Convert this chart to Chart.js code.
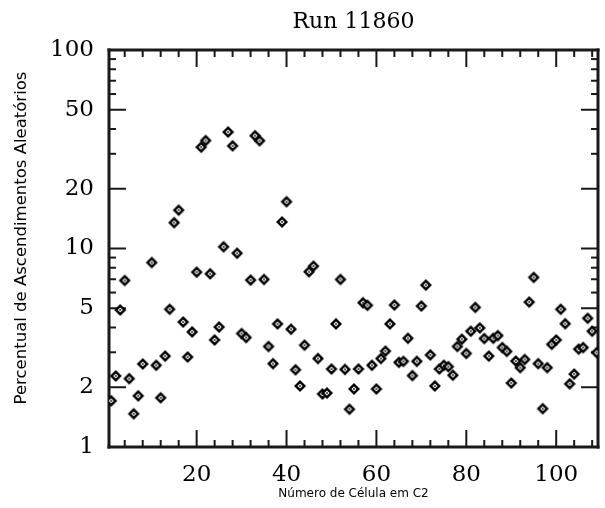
<!DOCTYPE html>
<html><head><meta charset="utf-8">
<script src="https://cdn.jsdelivr.net/npm/chart.js@4.4.0/dist/chart.umd.min.js"></script>
<style>html,body{margin:0;padding:0;background:#fff;}canvas{display:block;}</style>
</head><body>
<canvas id="c" width="605" height="508"></canvas>
<script>
const titleText = 'Run 11860';
const xTitle = 'Número de Célula em C2';
const yTitle = 'Percentual de Ascendimentos Aleatórios';
const cells = Array.from({length: 109}, (_, i) => i + 1);
const values = [
  1.71, 2.28, 4.90, 6.9, 2.21, 1.47, 1.81, 2.62, null, 8.5,
  2.58, 1.77, 2.87, 4.94, 13.5, 15.6, 4.26, 2.84, 3.80, 7.6,
  32.4, 35.0, 7.46, 3.46, 4.02, 10.2, 38.6, 32.9, 9.47, 3.73,
  3.56, 6.93, 37.0, 34.9, 6.98, 3.21, 2.63, 4.17, 13.6, 17.2,
  3.92, 2.45, 2.03, 3.26, 7.64, 8.15, 2.79, 1.85, 1.87, 2.47,
  4.17, 6.98, 2.46, 1.55, 1.96, 2.47, 5.33, 5.17, 2.58, 1.96,
  2.79, 3.04, 4.17, 5.19, 2.67, 2.70, 3.53, 2.29, 2.70, 5.13,
  6.54, 2.91, 2.03, 2.47, 2.58, 2.54, 2.30, 3.21, 3.49, 2.96,
  3.83, 5.05, 3.98, 3.52, 2.87, 3.53, 3.64, 3.17, 3.03, 2.10,
  2.71, 2.51, 2.76, 5.37, 7.15, 2.63, 1.56, 2.51, 3.29, 3.46,
  4.94, 4.18, 2.08, 2.33, 3.11, 3.17, 4.45, 3.83, 2.99
];
const xTicks = [20, 40, 60, 80, 100];
const xMinorTicks = [4, 8, 12, 16, 24, 28, 32, 36, 44, 48, 52, 56, 64, 68, 72, 76, 84, 88, 92, 96, 104, 108];
const yTicks = [1, 2, 5, 10, 20, 50, 100];
const yMinorTicks = [3, 4, 6, 7, 8, 9, 30, 40, 60, 70, 80, 90];

function makeMarker() {
  const s = 14, m = 7;
  const c = document.createElement('canvas');
  c.width = s; c.height = s;
  const g = c.getContext('2d');
  g.fillStyle = '#000';
  g.beginPath(); g.moveTo(m, m - 6); g.lineTo(m + 6, m); g.lineTo(m, m + 6); g.lineTo(m - 6, m); g.closePath(); g.fill();
  g.fillStyle = '#fff';
  g.beginPath(); g.moveTo(m, m - 2.6); g.lineTo(m + 2.6, m); g.lineTo(m, m + 2.6); g.lineTo(m - 2.6, m); g.closePath(); g.fill();
  g.fillStyle = '#000';
  g.fillRect(m - 0.8, m - 0.8, 1.6, 1.6);
  return c;
}

const frameTicks = {
  id: 'frameTicks',
  beforeDatasetsDraw(chart) {
    const ctx = chart.ctx;
    const a = chart.chartArea;
    const x = chart.scales.x, y = chart.scales.y;
    ctx.save();
    ctx.globalCompositeOperation = 'source-over';
    ctx.globalAlpha = 1;
    ctx.fillStyle = 'rgb(25,25,25)';
    ctx.fillRect(a.left - 1.5, a.top - 1.5, a.right - a.left + 3, 3);
    ctx.fillRect(a.left - 1.5, a.bottom - 1.5, a.right - a.left + 3, 3);
    ctx.fillRect(a.left - 1.5, a.top - 1.5, 3, a.bottom - a.top + 3);
    ctx.fillRect(a.right - 1.5, a.top - 1.5, 3, a.bottom - a.top + 3);
    const vt = (v, len) => {
      const px = x.getPixelForValue(v);
      ctx.fillRect(px - 1, a.bottom - len, 2, len);
      ctx.fillRect(px - 1, a.top, 2, len);
    };
    const ht = (v, len) => {
      const py = y.getPixelForValue(v);
      ctx.fillRect(a.left, py - 1, len, 2);
      ctx.fillRect(a.right - len, py - 1, len, 2);
    };
    xTicks.forEach(v => vt(v, 17));
    xMinorTicks.forEach(v => vt(v, 7));
    yTicks.forEach(v => ht(v, 17));
    yMinorTicks.forEach(v => ht(v, 7));
    ctx.restore();
  },
  afterDraw(chart) {
    const ctx = chart.ctx;
    const a = chart.chartArea;
    ctx.save();
    ctx.fillStyle = '#000';
    ctx.textAlign = 'center';
    ctx.textBaseline = 'middle';
    const cx = (a.left + a.right) / 2;
    ctx.font = '22px "DejaVu Serif"';
    ctx.fillText(titleText, cx, 22);
    ctx.font = '12px "DejaVu Sans"';
    ctx.fillText(xTitle, cx, 494);
    ctx.translate(22, 238);
    ctx.rotate(-Math.PI / 2);
    ctx.font = '16.5px "DejaVu Sans"';
    ctx.fillText(yTitle, 0, 0);
    ctx.restore();
  }
};

const frameBorder = {display: true, color: '#000', width: 2};

new Chart(document.getElementById('c'), {
  type: 'scatter',
  data: {
    datasets: [{
      data: cells.map((c, i) => ({x: c, y: values[i]})),
      pointStyle: makeMarker(),
      pointRadius: 6,
      showLine: false
    }]
  },
  options: {
    responsive: false,
    animation: false,
    devicePixelRatio: 1,
    layout: {padding: {left: 0, right: -3, top: 50, bottom: 0}},
    plugins: {legend: {display: false}, tooltip: {enabled: false}, title: {display: false}},
    scales: {
      x: {
        type: 'linear', min: 0.5, max: 109.3, position: 'bottom',
        grid: {display: false, drawTicks: false},
        border: frameBorder,
        afterBuildTicks: s => { s.ticks = xTicks.map(v => ({value: v})); },
        afterFit: s => { s.height = 61; },
        ticks: {autoSkip: false, maxRotation: 0, padding: 14, color: '#000', font: {family: 'DejaVu Serif', size: 23}, callback: v => String(v)}
      },
      x2: {
        type: 'linear', min: 0.5, max: 109.3, position: 'top',
        grid: {display: false, drawTicks: false},
        border: frameBorder,
        ticks: {display: false},
        afterFit: s => { s.height = 0; }
      },
      y: {
        type: 'logarithmic', min: 1, max: 100, position: 'left',
        grid: {display: false, drawTicks: false},
        border: frameBorder,
        afterBuildTicks: s => { s.ticks = yTicks.map(v => ({value: v})); },
        afterFit: s => { s.width = 109; },
        ticks: {autoSkip: false, padding: 15, color: '#000', font: {family: 'DejaVu Serif', size: 23}, callback: v => String(v)}
      },
      y2: {
        type: 'logarithmic', min: 1, max: 100, position: 'right',
        grid: {display: false, drawTicks: false},
        border: frameBorder,
        ticks: {display: false},
        afterFit: s => { s.width = 0; }
      }
    }
  },
  plugins: [frameTicks]
});
</script>
</body></html>
